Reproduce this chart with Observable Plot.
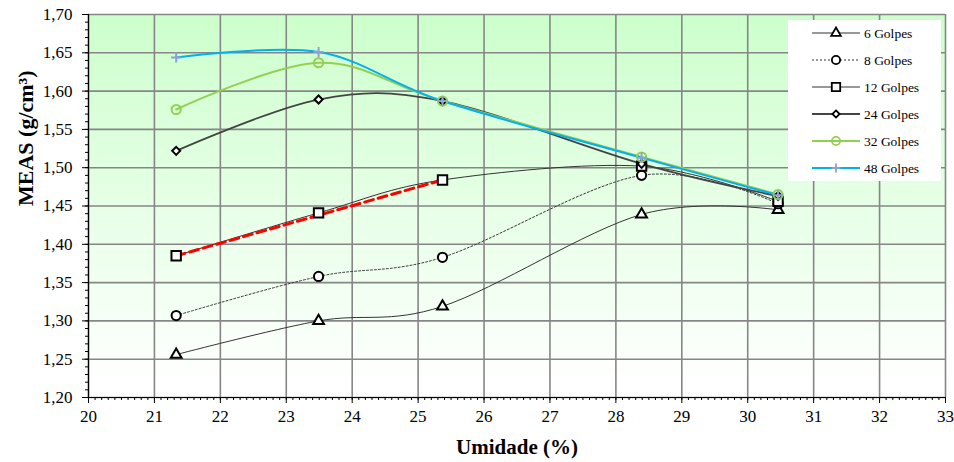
<!DOCTYPE html>
<html><head><meta charset="utf-8">
<script src="https://cdn.jsdelivr.net/npm/d3@7"></script>
<script src="https://cdn.jsdelivr.net/npm/@observablehq/plot@0.6"></script>
<style>body{margin:0;background:#fff} svg{display:block}</style>
</head><body><div id="chart"></div>
<script>
const umidade = [21.33, 23.49, 25.37, 28.39, 30.46];
const g6  = [1.256, 1.300, 1.319, 1.439, 1.445];
const g8  = [1.307, 1.358, 1.383, 1.490, 1.453];
const g12 = [1.385, 1.441, 1.484, 1.502, 1.456];
const g24 = [1.522, 1.589, 1.587, 1.505, 1.463];
const g32 = [1.576, 1.637, 1.587, 1.514, 1.465];
const g48 = [1.644, 1.651, 1.587, 1.513, 1.464];
const seriesNames = ["6 Golpes", "8 Golpes", "12 Golpes", "24 Golpes", "32 Golpes", "48 Golpes"];
const seriesValues = [g6, g8, g12, g24, g32, g48];
const trendX = [21.33, 25.37];
const trendY = [1.385, 1.484];
const xTicks = d3.range(20, 34);
const yTicks = [1.20, 1.25, 1.30, 1.35, 1.40, 1.45, 1.50, 1.55, 1.60, 1.65, 1.70];

const styles = [
  {line: "#333", width: 1, dash: null, symbol: "triangle", r: 4.0, mstroke: "#000", mfill: "#fff"},
  {line: "#333", width: 1, dash: "2,2", symbol: "circle", r: 4.6, mstroke: "#000", mfill: "#fff"},
  {line: "#333", width: 1, dash: null, symbol: "square", r: 5.3, mstroke: "#000", mfill: "#fff"},
  {line: "#444", width: 1.8, dash: null, symbol: "diamond2", r: 3.6, mstroke: "#000", mfill: "#fff"},
  {line: "#92d050", width: 2, dash: null, symbol: "circle", r: 4.6, mstroke: "#92d050", mfill: "none"},
  {line: "#00b0f0", width: 2, dash: null, symbol: "plus", r: 3.4, mstroke: "#8ea0d8", mfill: "none"}
];

const rows = (i) => umidade.map((x, j) => ({x, y: seriesValues[i][j]}));
const trend = trendX.map((x, i) => ({x, y: trendY[i]}));
const fmt = d => d3.format(".2f")(d).replace(".", ",");

const marks = [
  Plot.frame({fill: "url(#bgGrad)", stroke: null}),
  Plot.gridX({ticks: xTicks, stroke: "#868686", strokeOpacity: 1, strokeWidth: 1.6}),
  Plot.gridY({ticks: yTicks, stroke: "#868686", strokeOpacity: 1, strokeWidth: 1.6}),
  Plot.axisX({ticks: d3.range(200, 331).map(d => d / 10), tickSize: 3, tickFormat: () => "", label: null, stroke: "#000"}),
  Plot.axisX({ticks: xTicks, tickSize: 6, tickPadding: 6, tickFormat: d => String(d), fontSize: 17, label: null, stroke: "#000"}),
  Plot.axisY({ticks: d3.range(120, 171).map(d => d / 100), tickSize: 3, tickFormat: () => "", label: null, stroke: "#000"}),
  Plot.axisY({ticks: yTicks, tickSize: 6, tickPadding: 10, tickFormat: fmt, fontSize: 17, label: null, stroke: "#000"}),
  Plot.ruleX([20], {stroke: "#000", strokeWidth: 1.2}),
  Plot.ruleY([1.20], {stroke: "#000", strokeWidth: 1.2})
];
styles.forEach((s, i) => {
  marks.push(Plot.line(rows(i), {x: "x", y: "y", curve: "cardinal", tension: 0, stroke: s.line, strokeWidth: s.width, strokeDasharray: s.dash}));
});
marks.push(Plot.line(trend, {x: "x", y: "y", stroke: "#ff0000", strokeWidth: 3, strokeDasharray: "9,5"}));
styles.forEach((s, i) => {
  marks.push(Plot.dot(rows(i), {x: "x", y: "y", symbol: s.symbol, r: s.r, stroke: s.mstroke, fill: s.mfill, strokeWidth: 2}));
});
marks.push(Plot.text(["Umidade (%)"], {frameAnchor: "bottom", dy: 50, fontSize: 21, fontWeight: "bold", lineAnchor: "middle"}));
marks.push(Plot.text(["MEAS (g/cm³)"], {frameAnchor: "left", dx: -63, rotate: -90, fontSize: 22, fontWeight: "bold", lineAnchor: "middle"}));

const chart = Plot.plot({
  width: 954, height: 462,
  marginLeft: 88, marginRight: 9, marginTop: 14, marginBottom: 65,
  x: {domain: [20, 33], axis: null},
  y: {domain: [1.20, 1.70], axis: null},
  style: {fontFamily: "'Liberation Serif', 'Times New Roman', serif", fontSize: "17px", color: "#000", background: "#fff"},
  marks
});

const svg = d3.select(chart);
const defs = svg.insert("defs", ":first-child");
const grad = defs.append("linearGradient").attr("id", "bgGrad").attr("x1", 0).attr("y1", 0).attr("x2", 0).attr("y2", 1);
grad.append("stop").attr("offset", "0%").attr("stop-color", "#ccffcc");
grad.append("stop").attr("offset", "96%").attr("stop-color", "#ffffff");

// legend
const lg = svg.append("g").attr("font-family", "'Liberation Serif', 'Times New Roman', serif").attr("font-size", 13.5).attr("text-anchor", "start");
lg.append("rect").attr("x", 788).attr("y", 20).attr("width", 153).attr("height", 161).attr("fill", "#fff");
const symMap = {triangle: d3.symbolTriangle, circle: d3.symbolCircle, square: d3.symbolSquare, diamond2: d3.symbolDiamond2, plus: d3.symbolPlus};
styles.forEach((s, i) => {
  const y = 33 + i * 27;
  lg.append("line").attr("x1", 812).attr("x2", 860).attr("y1", y).attr("y2", y)
    .attr("stroke", s.line).attr("stroke-width", i === 3 ? 2 : (s.width > 1 ? 2 : 1.2)).attr("stroke-dasharray", s.dash);
  lg.append("path").attr("transform", `translate(836,${y})`)
    .attr("d", d3.symbol(symMap[s.symbol], Math.PI * s.r * s.r * 0.8)())
    .attr("fill", s.mfill).attr("stroke", s.mstroke).attr("stroke-width", 1.8);
  lg.append("text").attr("x", 864).attr("y", y).attr("dy", "0.35em").attr("text-anchor", "start").text(seriesNames[i]);
});

document.getElementById("chart").appendChild(chart);
</script>
</body></html>
